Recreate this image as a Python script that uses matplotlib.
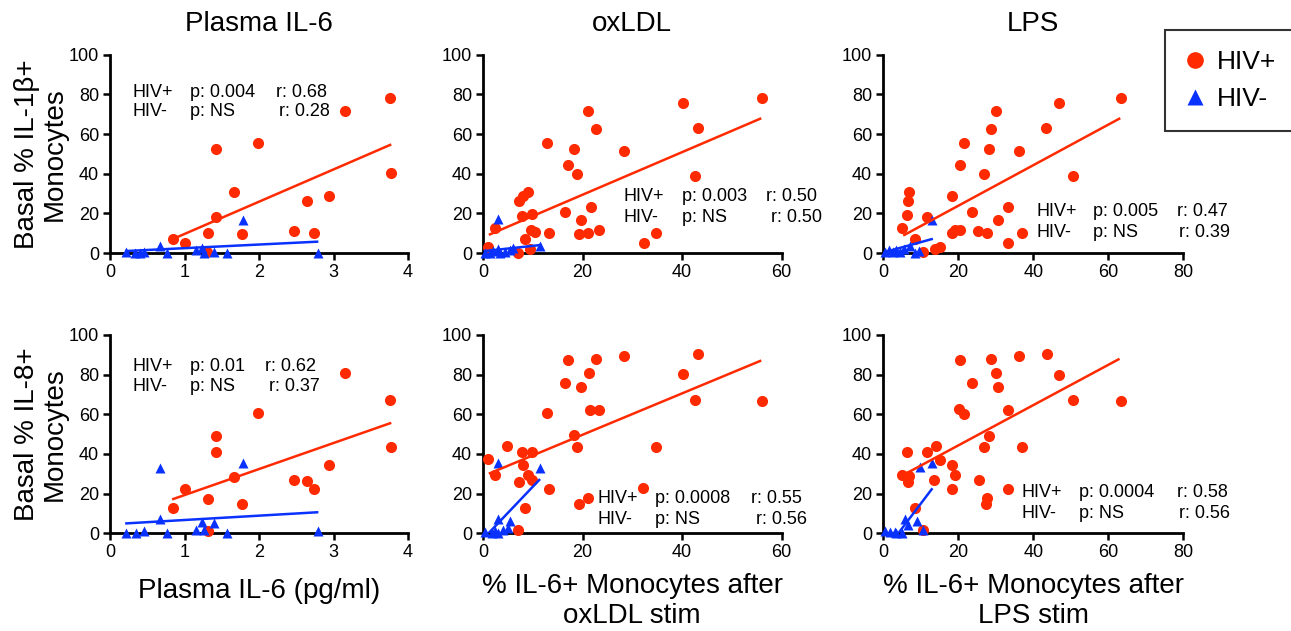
import matplotlib
matplotlib.use("Agg")
import matplotlib.pyplot as plt
from matplotlib.lines import Line2D

plt.rcParams["font.family"] = ["Liberation Sans", "DejaVu Sans"]

RED = "#ff2a00"
BLUE = "#0a32ff"

# --- top row: basal % IL-1b+ monocytes ---
tl_pos_x = [3.15, 1.42, 1.99, 1.66, 1.42, 1.31, 1.77, 0.84, 1.01, 2.47, 2.64, 2.74, 2.94, 1.30, 3.76, 3.77]
tl_pos_y = [71.7, 52.4, 55.7, 30.6, 18.3, 10.3, 9.4, 7.1, 4.9, 11.0, 26.1, 9.9, 28.8, 0.5, 78.0, 40.4]
tl_neg_x = [0.22, 0.34, 0.40, 0.45, 0.67, 0.76, 1.16, 1.24, 1.26, 1.39, 1.57, 1.79, 2.79]
tl_neg_y = [0.3, 0, 0, 0.3, 3.5, 0, 1.5, 2.5, 0, 0.3, 0, 16.7, 0]

tm_pos_x = [56.0, 40.3, 43.3, 21.2, 22.7, 12.9, 18.2, 28.4, 17.0, 18.8, 42.6, 9.1, 8.1, 7.2, 7.8, 9.9,
            16.5, 21.7, 19.7, 2.4, 9.6, 10.5, 13.3, 19.2, 21.2, 23.4, 34.8, 32.4, 8.4, 9.4, 1.1, 7.1]
tm_pos_y = [78.1, 75.6, 63.0, 71.7, 62.5, 55.7, 52.4, 51.2, 44.4, 40.0, 38.9, 30.6, 28.9, 26.1, 18.7, 19.5,
            20.5, 23.4, 16.7, 12.8, 11.8, 10.8, 10.0, 9.4, 10.3, 11.6, 10.0, 4.9, 7.1, 1.9, 3.2, 0.2]
tm_neg_x = [0.4, 1.5, 2.0, 3.1, 3.5, 4.5, 5.5, 6.0, 3.1, 11.5]
tm_neg_y = [0, 0, 1, 2, 0, 0.5, 1.5, 2.5, 17, 3.5]

tr_pos_x = [63.4, 46.9, 43.4, 30.0, 28.7, 21.5, 28.2, 36.2, 20.4, 26.8, 50.5, 6.9, 6.7, 18.2, 6.4, 11.6,
            23.6, 33.3, 30.7, 5.1, 18.4, 19.1, 20.4, 25.3, 27.6, 37.1, 33.2, 8.4, 13.8, 15.1, 10.7]
tr_pos_y = [78.1, 75.6, 63.0, 71.7, 62.5, 55.7, 52.4, 51.2, 44.4, 40.0, 38.9, 30.6, 26.1, 28.8, 19.3, 18.3,
            20.5, 23.4, 16.7, 12.8, 10.0, 11.6, 11.6, 11.1, 10.0, 10.3, 4.9, 7.1, 1.9, 2.9, 0.6]
tr_neg_x = [0.5, 1.5, 2.5, 3.5, 4.5, 5.5, 7.0, 8.5, 9.5, 12.9]
tr_neg_y = [0.5, 1.5, 0.3, 1.5, 0.5, 2, 3.5, 0, 1, 16.7]

# --- bottom row: basal % IL-8+ monocytes ---
bl_pos_x = [3.15, 1.99, 1.42, 1.42, 1.66, 1.01, 1.31, 1.77, 0.84, 2.47, 2.64, 2.74, 2.94, 1.31, 3.76, 3.77]
bl_pos_y = [80.9, 60.5, 49.2, 41.2, 28.5, 22.3, 17.3, 14.6, 12.6, 26.9, 26.4, 22.2, 34.4, 1.0, 67.2, 43.6]
bl_neg_x = [0.22, 0.35, 0.45, 0.67, 0.67, 0.76, 1.16, 1.24, 1.26, 1.39, 1.57, 1.79, 2.79]
bl_neg_y = [0.2, 0, 1, 33.1, 7.1, 0, 1.6, 5.9, 1.5, 5.0, 0, 35.3, 1]

bm_pos_x = [17.0, 22.7, 28.4, 43.3, 21.3, 40.3, 16.5, 19.7, 42.6, 56.0, 21.6, 23.4, 12.9, 18.2, 18.8, 34.8,
            4.8, 7.8, 9.9, 1.1, 8.1, 2.4, 9.1, 9.8, 7.2, 13.3, 32.2, 21.2, 19.2, 8.4, 7.1]
bm_pos_y = [87.4, 87.7, 89.4, 90.4, 80.7, 80.2, 75.6, 73.6, 67.2, 66.9, 62.2, 62.2, 60.5, 49.6, 43.4, 43.4,
            44.0, 41.2, 40.8, 37.3, 34.4, 29.4, 29.4, 26.9, 26.0, 22.2, 22.7, 17.6, 14.8, 12.6, 1.7]
bm_neg_x = [3.1, 11.5, 3.1, 5.4, 0.5, 1.8, 3.0, 4.0, 5.0, 2.5]
bm_neg_y = [35.3, 33.1, 7.1, 6.2, 0.5, 0, 0, 1.5, 2.5, 1.0]

br_pos_x = [20.4, 28.7, 36.2, 43.6, 30.0, 46.9, 23.6, 30.7, 50.5, 63.4, 20.3, 21.5, 33.2, 28.2, 26.8, 37.1,
            14.1, 6.4, 11.6, 15.1, 18.2, 5.1, 6.7, 19.1, 13.5, 6.9, 25.6, 18.4, 33.2, 27.6, 27.3, 8.4, 10.7]
br_pos_y = [87.4, 87.9, 89.6, 90.4, 80.7, 79.8, 75.9, 73.6, 67.2, 66.9, 62.5, 60.2, 62.2, 49.2, 43.4, 43.4,
            44.0, 40.8, 40.8, 37.0, 34.4, 29.4, 26.0, 29.4, 26.7, 29.0, 26.7, 22.2, 22.2, 17.6, 14.8, 12.6, 1.7]
br_neg_x = [9.8, 12.9, 5.8, 8.9, 10.5, 6.7, 0.5, 1.7, 3.4, 4.9, 3.0]
br_neg_y = [33.6, 35.3, 7.1, 6.2, 1.9, 4.0, 1, 0.5, 0, 0, 0.5]

# regression lines (x ends, y ends)
fit_pos = {
    "tl": ([0.84, 3.76], [7.0, 54.5]), "tm": ([1.4, 55.7], [9.4, 67.7]), "tr": ([5.6, 62.9], [9.1, 67.7]),
    "bl": ([0.85, 3.76], [17.3, 55.5]), "bm": ([1.4, 55.7], [30.3, 86.9]), "br": ([6.2, 62.7], [30.3, 87.7]),
}
fit_neg = {
    "tl": ([0.22, 2.78], [1.0, 5.7]), "tm": ([0.4, 11.5], [1.0, 4.0]), "tr": ([0.5, 12.9], [0.5, 7.0]),
    "bl": ([0.22, 2.78], [5.0, 10.6]), "bm": ([1.1, 11.3], [0.0, 26.9]), "br": ([4.0, 12.9], [0.0, 22.2]),
}

stats = {
    "tl": (("0.004", "0.68"), ("NS", "0.28")),
    "tm": (("0.003", "0.50"), ("NS", "0.50")),
    "tr": (("0.005", "0.47"), ("NS", "0.39")),
    "bl": (("0.01", "0.62"), ("NS", "0.37")),
    "bm": (("0.0008", "0.55"), ("NS", "0.56")),
    "br": (("0.0004", "0.58"), ("NS", "0.56")),
}
# text anchors in axes fraction: label x, p x, r right x (line1, line2), y line1, y line2
stat_pos = {
    "tl": (0.074, 0.268, 0.728, 0.738, 0.808, 0.712),
    "tm": (0.472, 0.666, 1.119, 1.136, 0.283, 0.177),
    "tr": (0.509, 0.698, 1.149, 1.156, 0.207, 0.101),
    "bl": (0.074, 0.268, 0.691, 0.705, 0.839, 0.738),
    "bm": (0.385, 0.576, 1.069, 1.085, 0.178, 0.072),
    "br": (0.462, 0.652, 1.149, 1.156, 0.208, 0.102),
}

panels = {
    "tl": (tl_pos_x, tl_pos_y, tl_neg_x, tl_neg_y, 4, [0, 1, 2, 3, 4]),
    "tm": (tm_pos_x, tm_pos_y, tm_neg_x, tm_neg_y, 60, [0, 20, 40, 60]),
    "tr": (tr_pos_x, tr_pos_y, tr_neg_x, tr_neg_y, 80, [0, 20, 40, 60, 80]),
    "bl": (bl_pos_x, bl_pos_y, bl_neg_x, bl_neg_y, 4, [0, 1, 2, 3, 4]),
    "bm": (bm_pos_x, bm_pos_y, bm_neg_x, bm_neg_y, 60, [0, 20, 40, 60]),
    "br": (br_pos_x, br_pos_y, br_neg_x, br_neg_y, 80, [0, 20, 40, 60, 80]),
}

W, H = 1291, 631
rects = {
    "tl": (110, 253, 298), "tm": (483, 253, 298.5), "tr": (883.3, 253, 300),
    "bl": (110, 533.3, 298), "bm": (483, 533.3, 298.5), "br": (883.3, 533.3, 300),
}

fig = plt.figure(figsize=(W / 100, H / 100), dpi=100)
axes = {}
for key, (x0, y0, w) in rects.items():
    ax = fig.add_axes([x0 / W, (H - y0) / H, w / W, 198.3 / H])
    axes[key] = ax
    px, py, nx, ny, xmax, xt = panels[key]
    ax.plot(px, py, "o", color=RED, ms=8, mec="none", clip_on=False, zorder=3)
    ax.plot(nx, ny, "^", color=BLUE, ms=7.5, mec="none", clip_on=False, zorder=4)
    ax.plot(*fit_pos[key], color=RED, lw=1.8, zorder=5)
    ax.plot(*fit_neg[key], color=BLUE, lw=1.8, zorder=5)
    ax.set_xlim(0, xmax)
    ax.set_ylim(0, 100)
    ax.set_xticks(xt)
    ax.set_yticks([0, 20, 40, 60, 80, 100])
    for s in ("top", "right"):
        ax.spines[s].set_visible(False)
    for s in ("left", "bottom"):
        ax.spines[s].set_linewidth(2)
    ax.tick_params(direction="out", length=5, width=1.8, labelsize=13, pad=3)
    (p1, r1), (p2, r2) = stats[key]
    lx, pxx, rx1, rx2, y1, y2 = stat_pos[key]
    kw = dict(transform=ax.transAxes, fontsize=13, va="center", clip_on=False)
    ax.text(lx, y1, "HIV+", ha="left", **kw)
    ax.text(pxx, y1, f"p: {p1}", ha="left", **kw)
    ax.text(rx1, y1, f"r: {r1}", ha="right", **kw)
    ax.text(lx, y2, "HIV-", ha="left", **kw)
    ax.text(pxx, y2, f"p: {p2}", ha="left", **kw)
    ax.text(rx2, y2, f"r: {r2}", ha="right", **kw)

titles = {"tl": "Plasma IL-6", "tm": "oxLDL", "tr": "LPS"}
for key, t in titles.items():
    axes[key].set_title(t, fontsize=20, pad=17)

axes["tl"].set_ylabel("Basal % IL-1\u03b2+\nMonocytes", fontsize=20, linespacing=1.05, labelpad=1)
axes["bl"].set_ylabel("Basal % IL-8+\nMonocytes", fontsize=20, linespacing=1.05, labelpad=1)
axes["bl"].set_xlabel("Plasma IL-6 (pg/ml)", fontsize=20, labelpad=12)
axes["bm"].set_xlabel("% IL-6+ Monocytes after\noxLDL stim", fontsize=20, linespacing=1.2, labelpad=8)
axes["br"].set_xlabel("% IL-6+ Monocytes after\nLPS stim", fontsize=20, linespacing=1.2, labelpad=8)

handles = [
    Line2D([], [], ls="none", marker="o", color=RED, mec="none", ms=12),
    Line2D([], [], ls="none", marker="^", color=BLUE, mec="none", ms=11),
]
leg = fig.legend(handles, ["HIV+", "HIV-"], loc="upper left", bbox_to_anchor=(1165 / W, 1 - 30 / H),
                 borderaxespad=0, fontsize=19, frameon=True, fancybox=False, edgecolor="black",
                 handlelength=0.8, handletextpad=0.4, borderpad=0.75, labelspacing=0.5)
leg.get_frame().set_linewidth(1.5)

fig.savefig("out.png", dpi=100)
